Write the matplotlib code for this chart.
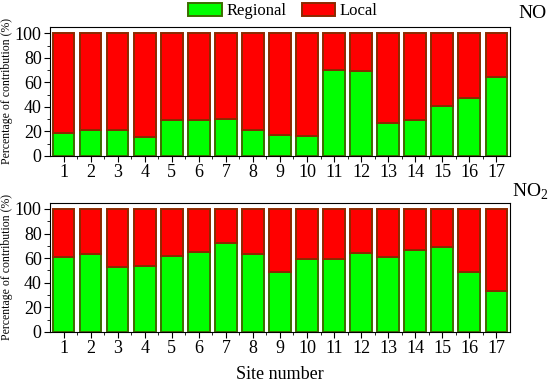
import matplotlib.pyplot as plt

plt.rcParams['font.family'] = ['Liberation Serif', 'DejaVu Serif']
plt.rcParams['mathtext.fontset'] = 'custom'
plt.rcParams['mathtext.rm'] = 'Liberation Serif'

# site numbers and regional share (%)
sites = list(range(1, 18))
no_regional = [19, 21, 21, 15, 29, 29, 30, 21, 17, 16, 70, 69, 27, 29, 41, 47, 64]
no2_regional = [61, 63, 53, 54, 62, 65, 72, 63, 49, 59, 59, 64, 61, 67, 69, 49, 33]

no_local = [100 - v for v in no_regional]
no2_local = [100 - v for v in no2_regional]

fig = plt.figure(figsize=(5.5, 3.82), dpi=100)
ax1 = fig.add_axes([0.091, 0.592, 0.836, 0.337])
ax2 = fig.add_axes([0.091, 0.131, 0.836, 0.338])

green = '#00ff00'
red = '#ff0000'
green_edge = '#3d6b00'
red_edge = '#8b2a00'

for ax, reg, loc in [(ax1, no_regional, no_local),
                     (ax2, no2_regional, no2_local)]:
    ax.bar(sites, reg, width=0.8, color=green, edgecolor=green_edge,
           linewidth=1.4, label='Regional')
    ax.bar(sites, loc, bottom=reg, width=0.8, color=red, edgecolor=red_edge,
           linewidth=1.4, label='Local')
    ax.set_xlim(0.5, 17.5)
    ax.set_ylim(0, 105)
    ax.set_xticks(sites)
    ax.set_xticks([s + 0.5 for s in sites[:-1]], minor=True)
    ax.set_yticks([0, 20, 40, 60, 80, 100])
    ax.set_yticks([10, 30, 50, 70, 90], minor=True)
    ax.tick_params(which='both', direction='out', labelsize=13, pad=2)
    ax.tick_params(which='major', length=4)
    ax.tick_params(which='minor', length=2)
    ax.set_ylabel('Percentage of contribution (%)', fontsize=8.5)
    ax.yaxis.set_label_coords(-0.08, 0.5)

fig.text(547 / 550, 1 - 13 / 382, 'NO', fontsize=14, ha='right', va='center')
fig.text(548 / 550, 1 - 192 / 382, r'NO$_\mathrm{2}$', fontsize=14, ha='right', va='center')

ax2.set_xlabel('Site number', fontsize=13, labelpad=6)

handles, labels = ax1.get_legend_handles_labels()
fig.legend(handles, labels, loc='center', bbox_to_anchor=(283 / 550, 1 - 11 / 382),
           ncol=2, frameon=False, fontsize=12, handlelength=2.0,
           handleheight=0.85, handletextpad=0.3, columnspacing=0.9,
           borderpad=0)

fig.savefig('out.png', dpi=100)
